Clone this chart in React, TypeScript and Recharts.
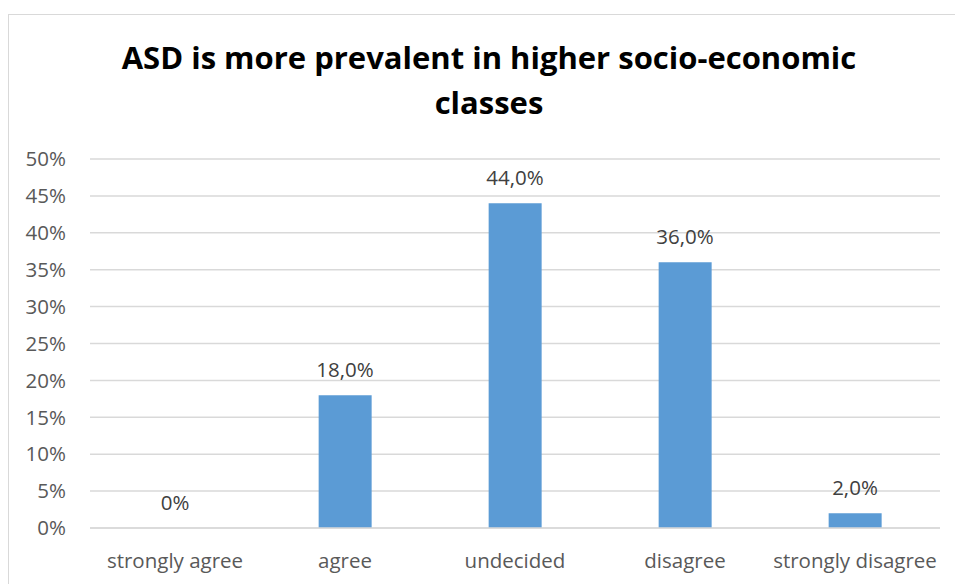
import React from 'react';
import { ComposedChart, Bar, Line, XAxis, YAxis, CartesianGrid, LabelList } from 'recharts';

const categories = ['strongly agree', 'agree', 'undecided', 'disagree', 'strongly disagree'];
const values = [0, 18, 44, 36, 2];
const valueLabels = ['0%', '18,0%', '44,0%', '36,0%', '2,0%'];
const yTicks = [0, 5, 10, 15, 20, 25, 30, 35, 40, 45, 50];

const data = categories.map((c, i) => ({ name: c, value: values[i], label: valueLabels[i] }));

const FONT = '"Open Sans", Lato, sans-serif';
const TICK_SIZE = 20.5;

export default function App() {
  return (
    <div style={{ position: 'fixed', left: 0, top: 0, width: 955, height: 584, background: '#fff', overflow: 'hidden' }}>
      <div style={{ position: 'absolute', left: 8, top: 14, width: 960, height: 600, border: '1.5px solid #d9d9d9', boxSizing: 'border-box' }} />
      <ComposedChart
        width={955}
        height={584}
        data={data}
        margin={{ top: 159, right: 15, bottom: 26, left: 0 }}
        barCategoryGap="34.5%"
        style={{ position: 'absolute', left: 0, top: 0 }}
      >
        <CartesianGrid vertical={false} stroke="#d9d9d9" strokeWidth={1.5} />
        <XAxis
          dataKey="name"
          height={30}
          axisLine={{ stroke: '#d9d9d9', strokeWidth: 1.5 }}
          tickLine={false}
          tickSize={0}
          tickMargin={25}
          interval={0}
          tick={{ fill: '#595959', fontSize: TICK_SIZE, fontFamily: FONT }}
        />
        <YAxis
          width={90}
          domain={[0, 50]}
          ticks={yTicks}
          tickFormatter={(v: number) => `${v}%`}
          axisLine={false}
          tickLine={false}
          tickSize={0}
          tickMargin={24}
          tick={{ fill: '#595959', fontSize: TICK_SIZE, fontFamily: FONT }}
        />
        <Bar dataKey="value" fill="#5b9bd5" isAnimationActive={false} />
        <Line dataKey="value" stroke="none" dot={false} activeDot={false} isAnimationActive={false}>
          <LabelList
            dataKey="label"
            position="top"
            offset={18}
            style={{ fill: '#404040', fontSize: TICK_SIZE, fontFamily: FONT }}
          />
        </Line>
      </ComposedChart>
      <svg width={955} height={140} style={{ position: 'absolute', left: 0, top: 0, pointerEvents: 'none' }}>
        <text x={489} y={69} textAnchor="middle" fontFamily={FONT} fontWeight="bold" fontSize={31} fill="#000">
          ASD is more prevalent in higher socio-economic
        </text>
        <text x={489} y={114} textAnchor="middle" fontFamily={FONT} fontWeight="bold" fontSize={31} fill="#000">
          classes
        </text>
      </svg>
    </div>
  );
}
